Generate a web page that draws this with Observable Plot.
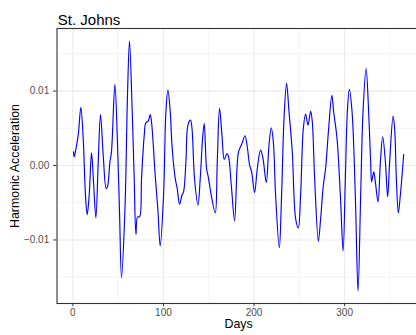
<!DOCTYPE html>
<html>
<head>
<meta charset="utf-8">
<script src="https://cdn.jsdelivr.net/npm/d3@7"></script>
<script src="https://cdn.jsdelivr.net/npm/@observablehq/plot@0.6"></script>
<style>
  html, body { margin: 0; padding: 0; background: #fff; overflow: hidden; }
  #wrap { width: 416px; height: 335px; overflow: hidden; position: relative; }
  #wrap svg { display: block; max-width: none !important; }
</style>
</head>
<body>
<div id="wrap"></div>
<script>
const title = "St. Johns";
const xLabel = "Days";
const yLabel = "Harmonic Acceleration";
const xTicks = [0, 100, 200, 300];
const xMinor = [50, 150, 250, 350];
const yTicks = [-0.01, 0, 0.01];
const yMinor = [-0.015, -0.005, 0.005, 0.015];

const days = [0.7,1.4,2.9,5.9,8.8,11.4,13.9,15.8,18.0,20.6,22.8,25.4,28.0,30.5,33.5,36.8,38.2,40.9,42.6,46.4,49.3,51.5,53.7,57.4,60.3,62.5,65.5,67.7,69.6,71.4,73.6,75.8,78.8,80.6,83.2,85.4,86.8,90.9,93.9,96.4,100.1,102.7,104.9,107.5,109.4,113.0,115.2,117.8,120.4,122.2,124.8,127.0,129.9,131.5,134.3,138.1,140.6,143.2,145.0,147.6,149.8,152.8,157.2,159.4,161.9,164.6,167.1,170.1,171.9,174.9,178.5,181.2,182.9,186.7,190.0,192.5,195.1,197.3,200.6,203.6,207.2,209.9,213.5,216.5,219.0,221.3,223.8,227.9,230.4,233.1,235.9,238.6,242.2,245.9,248.9,251.4,254.4,256.9,259.6,262.5,264.3,266.9,271.0,273.5,276.5,279.0,282.2,285.9,287.9,291.6,295.3,298.3,300.8,303.0,305.2,308.2,311.8,314.8,317.7,320.3,323.7,326.5,328.7,329.8,332.1,333.9,336.9,339.5,342.0,345.0,347.5,349.7,353.5,355.2,357.1,359.3,361.5,365.2];

const accel = [0.00184,0.00117,0.00192,0.00408,0.00781,0.00363,-0.00400,-0.00660,-0.00400,0.00171,-0.00219,-0.00704,0.00050,0.00686,0.00139,-0.00310,-0.00287,0.00050,0.00184,0.01090,0.00273,-0.00623,-0.01507,-0.00623,0.00946,0.01673,0.00723,-0.00175,-0.00925,-0.00690,-0.00690,-0.00175,0.00408,0.00575,0.00596,0.00686,0.00588,-0.00135,-0.00606,-0.01081,-0.00400,0.00723,0.01013,0.00723,0.00273,-0.00175,-0.00310,-0.00521,-0.00400,-0.00354,0.00050,0.00542,0.00610,0.00498,-0.00175,-0.00534,-0.00175,0.00363,0.00565,-0.00040,-0.00175,-0.00400,-0.00637,0.00050,0.00767,0.00408,0.00081,0.00162,0.00117,-0.00265,-0.00744,-0.00040,0.00184,0.00296,0.00400,0.00252,0.00004,-0.00085,-0.00363,-0.00040,0.00206,0.00094,-0.00229,0.00273,0.00507,0.00319,-0.00400,-0.01104,-0.00400,0.00633,0.01104,0.00723,0.00184,-0.00713,-0.00839,-0.00400,0.00498,0.00690,0.00542,0.00731,0.00588,-0.00175,-0.01019,-0.00713,-0.00265,-0.00040,0.00471,0.00942,0.00723,0.00363,-0.00400,-0.01148,-0.00175,0.00723,0.01023,0.00723,-0.00400,-0.01686,-0.00400,0.00723,0.01306,0.00723,0.00050,-0.00219,-0.00085,-0.00219,-0.00489,0.00050,0.00386,0.00050,-0.00421,0.00050,0.00664,0.00498,-0.00175,-0.00637,-0.00400,0.00148];

const n = Math.min(days.length, accel.length);
const data = d3.range(n).map(i => ({day: days[i], value: accel[i]}));

// ggplot-style 5% expansion
const xr = d3.extent(days), yr = d3.extent(accel);
const xPad = (xr[1] - xr[0]) * 0.05, yPad = (yr[1] - yr[0]) * 0.05;

const font = "'Liberation Sans', Arial, Helvetica, sans-serif";

const chart = Plot.plot({
  width: 424,
  height: 335,
  marginLeft: 56.5,
  marginRight: 4.3,
  marginTop: 28,
  marginBottom: 32,
  style: {fontFamily: font, background: "#fff", overflow: "visible", maxWidth: "none"},
  x: {domain: [xr[0] - xPad, xr[1] + xPad]},
  y: {domain: [yr[0] - yPad, yr[1] + yPad]},
  marks: [
    Plot.gridX(xMinor, {stroke: "#ebebeb", strokeOpacity: 1, strokeWidth: 0.6}),
    Plot.gridY(yMinor, {stroke: "#ebebeb", strokeOpacity: 1, strokeWidth: 0.6}),
    Plot.gridX(xTicks, {stroke: "#ebebeb", strokeOpacity: 1, strokeWidth: 1.1}),
    Plot.gridY(yTicks, {stroke: "#ebebeb", strokeOpacity: 1, strokeWidth: 1.1}),
    Plot.line(data, {x: "day", y: "value", stroke: "#0000ff", strokeWidth: 1.15, curve: "catmull-rom"}),
    Plot.frame({stroke: "#333333", strokeWidth: 1.1}),
    Plot.axisX(xTicks, {tickSize: 3.3, tickPadding: 2.5, fontSize: 10, stroke: "#333333", fill: "#4d4d4d", label: null, tickFormat: d => d}),
    Plot.axisY(yTicks, {tickSize: 3.3, tickPadding: 4.5, fontSize: 10, stroke: "#333333", fill: "#4d4d4d", label: null, tickFormat: d3.format(".2f")}),
    Plot.text([title], {frameAnchor: "top-left", textAnchor: "start", dx: 0.8, dy: -14.5, fontSize: 15, fill: "#000"}),
    Plot.text([xLabel], {frameAnchor: "bottom", textAnchor: "middle", dy: 24, fontSize: 12.4, fill: "#000"}),
    Plot.text([yLabel], {frameAnchor: "left", textAnchor: "middle", rotate: -90, dx: -41.5, fontSize: 12.4, fill: "#000"})
  ]
});
document.getElementById("wrap").appendChild(chart);
</script>
</body>
</html>
